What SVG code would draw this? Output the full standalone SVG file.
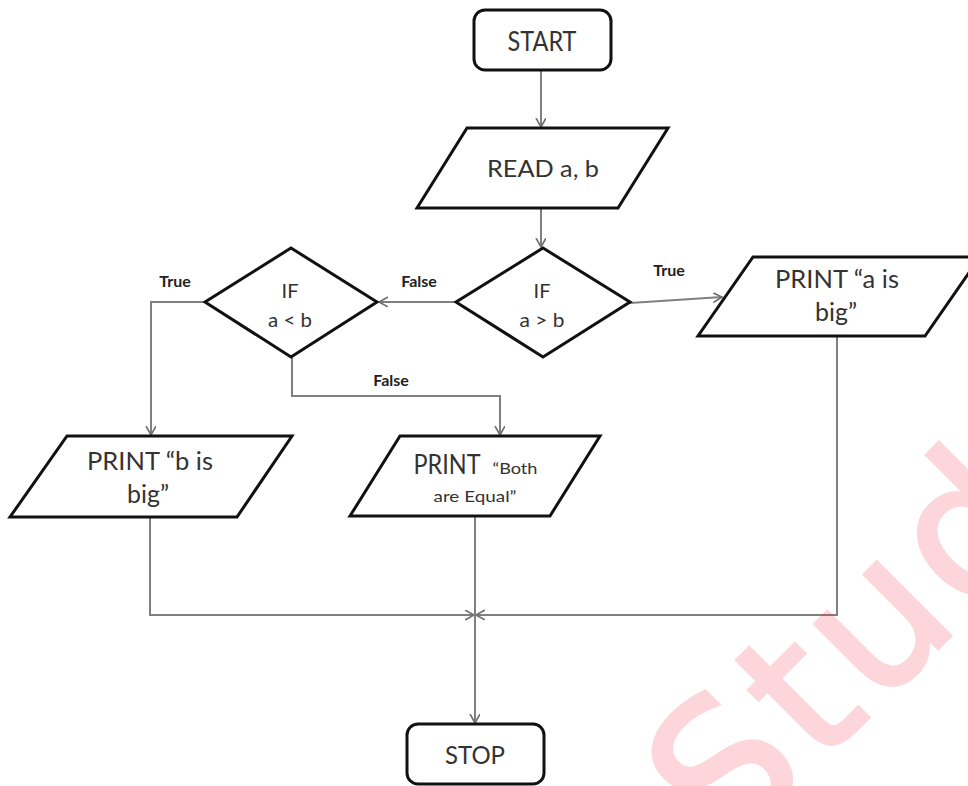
<svg xmlns="http://www.w3.org/2000/svg" width="968" height="786" viewBox="0 0 968 786">
<defs>
<style>
.node{fill:#fff;stroke:#111;stroke-width:3;stroke-linejoin:miter}
.conn{fill:none;stroke:#808080;stroke-width:2}
.t{font-family:Lato,"Open Sans","Liberation Sans",sans-serif;fill:#333;text-anchor:middle}
.lbl{font-family:Lato,"Liberation Sans",sans-serif;font-weight:bold;font-size:16px;fill:#222;text-anchor:middle}
.wm{font-family:"DejaVu Sans",Verdana,sans-serif;font-size:190px;fill:#f01428;stroke:#f01428;stroke-width:4;letter-spacing:8px}
</style>
<marker id="arr" markerWidth="12" markerHeight="12" refX="9" refY="5" orient="auto" markerUnits="userSpaceOnUse">
<path d="M0,0 L9,5 L0,10" fill="none" stroke="#707070" stroke-width="1.6"/>
</marker>
</defs>
<rect width="968" height="786" fill="#fff"/>
<g id="connectors">
<path class="conn" d="M541,70 V127" marker-end="url(#arr)"/>
<path class="conn" d="M541,208 V247" marker-end="url(#arr)"/>
<path class="conn" d="M456,302 H379" marker-end="url(#arr)"/>
<path class="conn" d="M630,303 L722,297" marker-end="url(#arr)"/>
<path class="conn" d="M205,302 H151 V435" marker-end="url(#arr)"/>
<path class="conn" d="M292,357 V396 H500 V435" marker-end="url(#arr)"/>
<path class="conn" d="M150,517 V615 H474" marker-end="url(#arr)"/>
<path class="conn" d="M837,336 V615 H476" marker-end="url(#arr)"/>
<path class="conn" d="M475,516 V723" marker-end="url(#arr)"/>
<text class="lbl" x="175" y="287">True</text>
<text class="lbl" x="419" y="287">False</text>
<text class="lbl" x="391" y="386">False</text>
<text class="lbl" x="669" y="276">True</text>
</g>
<g id="start">
<rect class="node" x="474" y="10" width="137" height="60" rx="11"/>
<text class="t" x="542" y="51" font-size="26" textLength="69" lengthAdjust="spacingAndGlyphs">START</text>
</g>
<g id="read">
<polygon class="node" points="467,128 668,128 618,208 417,208"/>
<text class="t" x="543" y="177" font-size="24" textLength="112" lengthAdjust="spacingAndGlyphs">READ a, b</text>
</g>
<g id="if-a-gt-b">
<polygon class="node" points="543,248 630,302 543,357 456,302"/>
<text class="t" x="542" y="298" font-size="20">IF</text>
<text class="t" x="542" y="327" font-size="20" textLength="45" lengthAdjust="spacingAndGlyphs">a &gt; b</text>
</g>
<g id="if-a-lt-b">
<polygon class="node" points="291,248 377,302 291,357 205,302"/>
<text class="t" x="290" y="298" font-size="20">IF</text>
<text class="t" x="290" y="327" font-size="20" textLength="44" lengthAdjust="spacingAndGlyphs">a &lt; b</text>
</g>
<g id="print-a">
<polygon class="node" points="753,257 980,257 925,336 698,336"/>
<text class="t" x="837" y="288" font-size="25" textLength="124" lengthAdjust="spacingAndGlyphs">PRINT “a is</text>
<text class="t" x="836" y="321" font-size="25" textLength="42" lengthAdjust="spacingAndGlyphs">big”</text>
</g>
<g id="print-b">
<polygon class="node" points="67,436 292,436 237,517 10,517"/>
<text class="t" x="150" y="470" font-size="25" textLength="126" lengthAdjust="spacingAndGlyphs">PRINT “b is</text>
<text class="t" x="148" y="503" font-size="25" textLength="42" lengthAdjust="spacingAndGlyphs">big”</text>
</g>
<g id="print-both">
<polygon class="node" points="400,436 600,436 550,516 350,516"/>
<text class="t" x="447" y="474" font-size="26" textLength="67" lengthAdjust="spacingAndGlyphs">PRINT</text>
<text class="t" x="515" y="474" font-size="16" textLength="45" lengthAdjust="spacingAndGlyphs">“Both</text>
<text class="t" x="475" y="502" font-size="16" textLength="83" lengthAdjust="spacingAndGlyphs">are Equal”</text>
</g>
<g id="stop">
<rect class="node" x="407" y="724" width="137" height="60" rx="11"/>
<text class="t" x="475" y="764" font-size="25" textLength="60" lengthAdjust="spacingAndGlyphs">STOP</text>
</g>
<g opacity="0.17">
<text class="wm" transform="translate(728,858) rotate(-45)">Stud</text>
</g>
</svg>
